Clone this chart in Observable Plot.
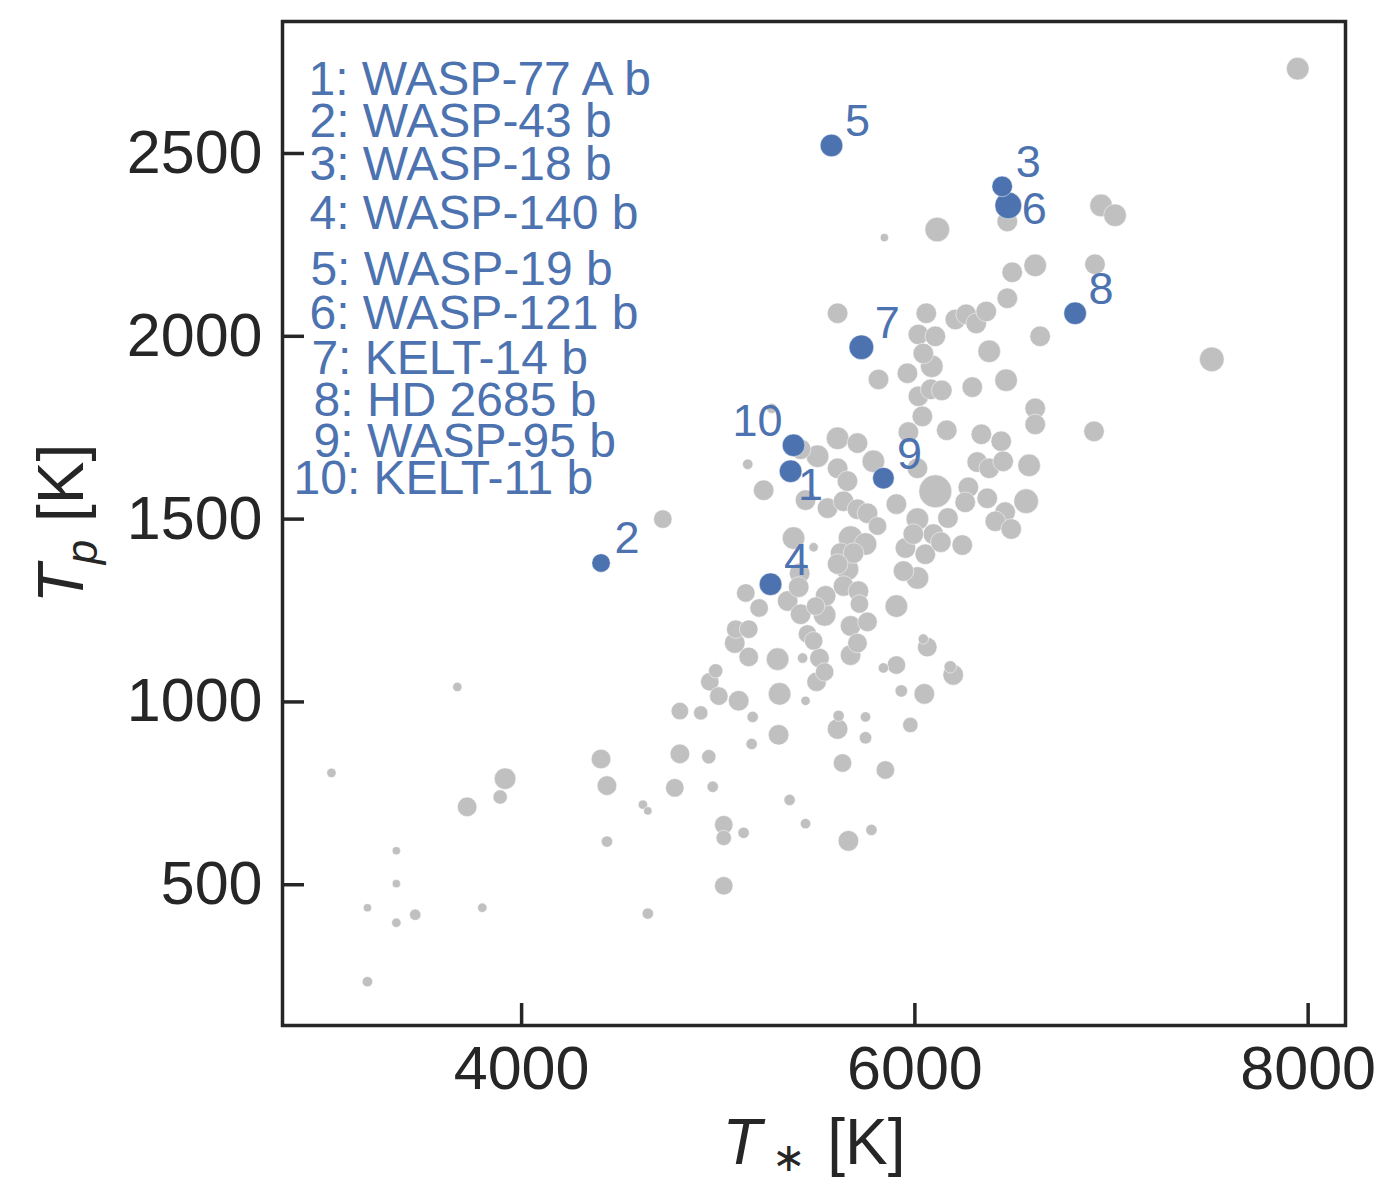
<!DOCTYPE html>
<html>
<head>
<meta charset="utf-8">
<script src="https://cdn.jsdelivr.net/npm/d3@7"></script>
<script src="https://cdn.jsdelivr.net/npm/@observablehq/plot@0.6"></script>
<style>
  html, body { margin: 0; padding: 0; background: #fff; }
  svg { display: block; }
</style>
</head>
<body>
<div id="chart"></div>
<script>
// ---- Data ----
// Background planet sample: stellar temperature T* [K], planet temperature Tp [K], size value (Rp)
const grayTstar = [3033,3216,3216,3363,3363,3363,3459,3673,3723,3800,3891,3916,4404,4434,4434,4617,4642,4642,4718,4779,
  4805,4805,4911,4952,4972,5028,5028,5129,5028,4957,4987,5003,5104,5084,5089,5155,5155,5175,5170,5302,
  5312,5307,5363,5444,5429,5444,5662,5779,5612,5607,5749,5749,5632,5850,5977,5840,5906,5931,6048,6043,
  6063,6180,6195,5208,5140,5353,5419,5454,5485,5515,5541,5500,5546,5495,5541,5718,5673,5759,5708,5673,
  5906,5637,5713,5673,5749,5622,5688,5607,5657,5383,5485,5414,5409,5231,5444,5556,5637,5708,5759,5810,
  5906,6104,6013,6168,6241,6094,5952,6053,6132,5942,6013,5150,5419,5505,5607,5708,5607,5657,5789,6013,
  5607,6058,6206,6261,6312,6363,6018,6104,6043,6086,6378,5962,5815,6018,6081,6137,6292,6464,6038,6612,
  6612,5967,6162,6338,6439,6317,6378,6449,6581,6272,6256,6368,6459,6409,6490,6566,6470,6637,6470,6114,
  5845,6947,7018,6612,6495,6916,7510,7947,6911,5992,5272];
const grayTp = [806,437,235,593,503,396,418,1041,713,437,740,790,844,771,618,719,702,421,1500,765,
  975,858,970,850,768,664,628,642,497,1055,1085,1016,1003,1161,1199,1199,1123,959,885,1117,
  1022,910,732,1003,1120,667,620,650,962,926,959,902,833,814,937,1093,1101,1030,1022,1172,
  1150,1096,1074,1257,1298,1276,1240,1186,1167,1120,1082,1055,1290,1262,1238,1268,1208,1219,1161,1128,
  1262,1317,1303,1448,1432,1407,1407,1377,1363,1448,1423,1352,1314,1579,1552,1530,1549,1527,1516,1481,
  1541,1576,1500,1503,1429,1459,1421,1404,1437,1358,1339,1650,1691,1672,1721,1708,1639,1604,1658,1639,
  2063,2063,2046,2060,2035,2068,2005,2000,1953,1918,1959,1899,1882,1836,1855,1852,1861,1880,1781,1803,
  1759,1738,1743,1732,1713,1656,1639,1658,1647,1587,1546,1557,1519,1494,1473,1549,2104,2000,2314,2292,
  2270,2358,2331,2194,2175,2197,1937,2732,1740,1459,1803];
const grayRp = [0.17,0.13,0.21,0.13,0.13,0.17,0.25,0.17,0.75,0.17,0.40,0.91,0.75,0.75,0.25,0.17,0.13,0.25,0.67,0.67,
  0.60,0.75,0.40,0.40,0.25,0.67,0.46,0.25,0.67,0.67,0.40,0.67,0.83,0.83,0.67,0.67,0.75,0.25,0.25,1.00,
  1.00,0.83,0.25,0.17,0.21,0.21,0.83,0.25,0.25,0.83,0.21,0.30,0.67,0.67,0.46,0.21,0.67,0.30,0.83,0.21,
  0.75,0.30,0.83,0.67,0.67,0.83,0.83,0.67,0.67,0.75,0.67,0.75,0.83,0.67,1.00,0.67,0.83,0.75,0.75,0.83,
  1.00,0.83,0.83,1.19,1.00,0.83,0.83,0.83,1.00,1.00,0.17,0.83,0.83,0.83,0.83,0.83,0.83,0.83,0.83,0.67,
  0.83,2.12,1.00,0.83,0.83,0.83,0.83,0.83,0.83,0.83,1.00,0.21,0.83,1.00,1.00,0.83,0.83,0.83,1.00,0.83,
  0.83,0.83,0.83,0.83,0.83,0.83,0.83,0.83,0.83,1.00,1.00,0.83,0.83,0.83,0.83,0.83,0.83,1.00,0.83,0.83,
  0.83,0.83,0.83,0.83,0.83,0.83,0.83,0.83,1.00,0.83,0.83,0.83,0.83,0.83,0.83,1.19,0.83,0.83,0.83,1.19,
  0.13,1.00,1.00,1.00,0.83,0.83,1.19,1.00,0.83,0.83,0.21];

// Highlighted planets
const planetNames = ["WASP-77 A b","WASP-43 b","WASP-18 b","WASP-140 b","WASP-19 b",
  "WASP-121 b","KELT-14 b","HD 2685 b","WASP-95 b","KELT-11 b"];
const planetTstar = [5368,4404,6444,5266,5576,6475,5728,6815,5840,5383];
const planetTp    = [1631,1380,2410,1322,2522,2358,1970,2063,1612,1702];
const planetRp    = [1.00,0.67,0.83,1.00,1.00,1.40,1.19,1.00,0.91,1.00];

// Key text placement (data coordinates, as annotated on the figure)
const legendTstar = [2916,2921,2921,2921,2926,2921,2931,2942,2942,2840];
const legendTp    = [2702,2587,2470,2336,2183,2063,1940,1825,1713,1612];

const xTicks = [4000, 6000, 8000];
const yTicks = [500, 1000, 1500, 2000, 2500];
const xLabel = "T∗ [K]";
const yLabel = "Tp [K]";

// ---- Build tables ----
const gray = grayTstar.map((t, i) => ({Tstar: t, Tp: grayTp[i], Rp: grayRp[i]}));
const planets = planetNames.map((n, i) => ({id: i + 1, name: n, Tstar: planetTstar[i], Tp: planetTp[i], Rp: planetRp[i]}));
const legend = planets.map((p, i) => ({label: `${p.id}: ${p.name}`, Tstar: legendTstar[i], Tp: legendTp[i]}));

const BLUE = "#4c72b0";
const INK = "#262626";
const W = 1381, H = 1188;
const mL = 282, mR = 36, mT = 21, mB = 163;
const frameW = W - mL - mR, frameH = H - mT - mB;
const tickLen = 22;

const numOpts = {x: "Tstar", y: "Tp", text: d => String(d.id), fill: BLUE, fontSize: 45, lineAnchor: "middle"};

const svg = Plot.plot({
  width: W, height: H,
  marginTop: mT, marginRight: mR, marginBottom: mB, marginLeft: mL,
  style: {fontFamily: "'Liberation Sans', Arial, Helvetica, sans-serif", background: "white", color: INK},
  x: {domain: [2784, 8190]},
  y: {domain: [115, 2861]},
  r: {type: "sqrt", domain: [0, 1], range: [0, 11.3]},
  marks: [
    Plot.dot(gray, {x: "Tstar", y: "Tp", r: "Rp", fill: "#c0c0c0", stroke: "white", strokeWidth: 0.5}),
    Plot.dot(planets, {x: "Tstar", y: "Tp", r: "Rp", fill: BLUE, stroke: "white", strokeWidth: 0.5}),
    Plot.text(legend, {x: "Tstar", y: "Tp", text: "label", textAnchor: "start", lineAnchor: "middle", fill: BLUE, fontSize: 48}),
    Plot.text(planets.filter(p => ![1, 6, 10].includes(p.id)), {...numOpts, dx: 26, dy: -24}),
    Plot.text(planets.filter(p => p.id === 1), {...numOpts, dx: 20, dy: 14}),
    Plot.text(planets.filter(p => p.id === 6), {...numOpts, dx: 26, dy: 4}),
    Plot.text(planets.filter(p => p.id === 10), {...numOpts, dx: -11, dy: -24, textAnchor: "end"}),
    Plot.tickY(yTicks, {y: d => d, insetRight: frameW - tickLen, stroke: INK, strokeWidth: 3.5}),
    Plot.tickX(xTicks, {x: d => d, insetTop: frameH - tickLen, stroke: INK, strokeWidth: 3.5}),
    Plot.frame({stroke: INK, strokeWidth: 3.5}),
    Plot.axisX(xTicks, {tickSize: 0, tickPadding: 20, fontSize: 61, label: null, fill: INK, tickFormat: d => String(d)}),
    Plot.axisY(yTicks, {tickSize: 0, tickPadding: 20, fontSize: 61, label: null, fill: INK, tickFormat: d => String(d)}),
    Plot.text([xLabel], {frameAnchor: "bottom", text: d => d, dy: 118, fontSize: 64, lineAnchor: "middle", textAnchor: "middle", fill: INK}),
    Plot.text([yLabel], {frameAnchor: "left", text: d => d, dx: -220, rotate: -90, fontSize: 64, lineAnchor: "middle", textAnchor: "middle", fill: INK})
  ]
});

// Rich text for the axis labels (italic symbols with subscripts)
d3.select(svg).selectAll("text").each(function () {
  const content = this.textContent;
  const t = d3.select(this);
  if (content === xLabel) {
    t.text(null);
    t.append("tspan").attr("font-style", "italic").text("T");
    t.append("tspan").attr("font-size", 40).attr("dx", 10).attr("dy", 7).text("∗");
    t.append("tspan").attr("dx", 4).attr("dy", -7).text(" [K]");
  } else if (content === yLabel) {
    t.text(null);
    t.append("tspan").attr("font-style", "italic").text("T");
    t.append("tspan").attr("font-style", "italic").attr("font-size", 44).attr("dy", 14).text("p");
    t.append("tspan").attr("dy", -14).text(" [K]");
  }
});

document.getElementById("chart").appendChild(svg);
</script>
</body>
</html>
